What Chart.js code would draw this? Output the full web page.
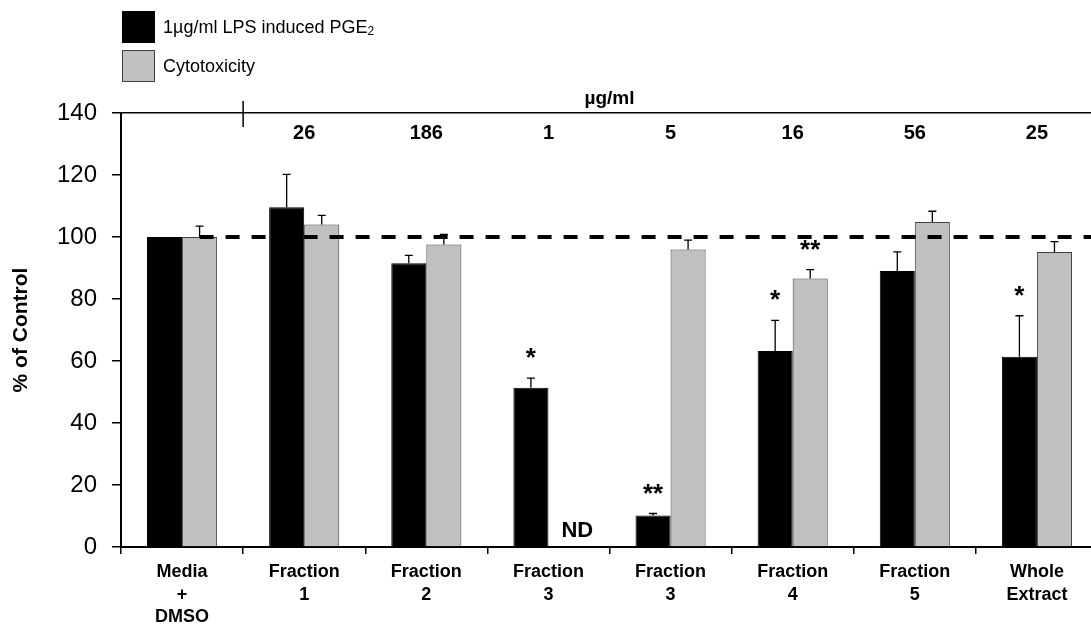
<!DOCTYPE html>
<html>
<head>
<meta charset="utf-8">
<script src="https://cdn.jsdelivr.net/npm/chart.js@4.4.1/dist/chart.umd.min.js"></script>
<style>
    html, body { margin: 0; padding: 0; background: #fff; overflow: hidden; }
    #wrap { position: relative; width: 1098px; height: 631px; }
    #legend { position: absolute; left: 122px; top: 11px; font-family: "Liberation Sans", Arial, sans-serif; font-size: 18px; color: #000; }
    .item { display: flex; align-items: center; height: 32px; margin-bottom: 7px; }
    .box { width: 33px; height: 32px; box-sizing: border-box; margin-right: 8px; }
    .item sub { font-size: 12px; vertical-align: -2px; }
</style>
</head>
<body>
<div id="wrap">
    <canvas id="grafico" width="1098" height="631"></canvas>
    <div id="legend"></div>
</div>
<script>
// dados
const categories = [['Media', '+', 'DMSO'], ['Fraction', '1'], ['Fraction', '2'], ['Fraction', '3'],
    ['Fraction', '3'], ['Fraction', '4'], ['Fraction', '5'], ['Whole', 'Extract']];
const concLabels = ['', '26', '186', '1', '5', '16', '56', '25'];

const pgeValues = [100, 109.6, 91.5, 51.4, 10.2, 63.2, 89.0, 61.4];
const pgeErrors = [0, 10.6, 2.6, 3.1, 0.6, 9.9, 6.2, 13.2];
const cytoValues = [100, 104.0, 97.6, null, 96.0, 86.6, 104.8, 95.2];
const cytoErrors = [3.5, 3.0, 3.2, 0, 3.0, 2.9, 3.5, 3.3];

const pgeSig = ['', '', '', '*', '**', '*', '', '*'];
const cytoSig = ['', '', '', '', '', '**', '', ''];
const ndIndex = 3;
const refLine = 100;

const FONT = '"Liberation Sans", Arial, sans-serif';
Chart.defaults.font.family = FONT;
Chart.defaults.color = '#000';

// barras de erro, asteriscos, ND, linha tracejada e marca do eixo de cima
const extras = {
    id: 'extras',
    afterDatasetsDraw(chart) {
        const ctx = chart.ctx;
        const y = chart.scales.y;
        const x = chart.scales.x;
        const area = chart.chartArea;
        const errs = [pgeErrors, cytoErrors];
        const sigs = [pgeSig, cytoSig];
        ctx.save();

        // linha de 100%
        const m1 = chart.getDatasetMeta(1);
        const yRef = y.getPixelForValue(refLine);
        ctx.strokeStyle = '#000';
        ctx.lineWidth = 4;
        ctx.setLineDash([14, 12]);
        ctx.beginPath();
        ctx.moveTo(m1.data[0].x, yRef);
        ctx.lineTo(area.right, yRef);
        ctx.stroke();
        ctx.setLineDash([]);

        chart.data.datasets.forEach((ds, di) => {
            const meta = chart.getDatasetMeta(di);
            meta.data.forEach((bar, i) => {
                const v = ds.data[i];
                if (v === null) return;
                const base = y.getPixelForValue(v);
                const top = y.getPixelForValue(v + errs[di][i]);
                if (errs[di][i] > 0) {
                    ctx.strokeStyle = '#000';
                    ctx.lineWidth = 1.3;
                    ctx.beginPath();
                    ctx.moveTo(bar.x, base);
                    ctx.lineTo(bar.x, top);
                    ctx.moveTo(bar.x - 4, top);
                    ctx.lineTo(bar.x + 4, top);
                    ctx.stroke();
                }
                if (sigs[di][i]) {
                    ctx.fillStyle = '#000';
                    ctx.font = 'bold 26px ' + FONT;
                    ctx.textAlign = 'center';
                    ctx.textBaseline = 'alphabetic';
                    ctx.fillText(sigs[di][i], bar.x, top - 12);
                }
            });
        });

        // ND no lugar da barra cinza
        const b = chart.getDatasetMeta(0).data[ndIndex];
        ctx.fillStyle = '#000';
        ctx.font = 'bold 22px ' + FONT;
        ctx.textAlign = 'left';
        ctx.textBaseline = 'alphabetic';
        ctx.fillText('ND', b.x + b.width / 2 + 13, y.getPixelForValue(0) - 10);

        // marca vertical no eixo de cima
        const xt = x.getPixelForValue(0.5);
        ctx.strokeStyle = '#000';
        ctx.lineWidth = 1.5;
        ctx.beginPath();
        ctx.moveTo(xt, area.top - 12);
        ctx.lineTo(xt, area.top + 14);
        ctx.stroke();
        ctx.restore();
    }
};

const ctx = document.getElementById('grafico').getContext('2d');
const grafico = new Chart(ctx, {
    type: 'bar',
    data: {
        labels: categories,
        datasets: [
            {
                label: '1µg/ml LPS induced PGE<sub>2</sub>',
                data: pgeValues,
                backgroundColor: '#000000',
                borderColor: '#000000',
                borderWidth: 1
            },
            {
                label: 'Cytotoxicity',
                data: cytoValues,
                backgroundColor: '#C0C0C0',
                borderColor: '#404040',
                borderWidth: 1
            }
        ]
    },
    options: {
        responsive: false,
        animation: false,
        layout: { padding: 0 },
        datasets: { bar: { categoryPercentage: 0.574, barPercentage: 1.0 } },
        plugins: { legend: { display: false }, tooltip: { enabled: false } },
        scales: {
            x: {
                position: 'bottom',
                offset: true,
                grid: { display: true, offset: true, drawOnChartArea: false, tickLength: 7, color: '#000', lineWidth: 1.5 },
                border: { display: true, color: '#000', width: 2 },
                ticks: { font: { size: 18, weight: 'bold', lineHeight: 1.25 }, color: '#000', padding: 7, maxRotation: 0, autoSkip: false },
                afterFit: s => { s.height = 84; }
            },
            x2: {
                type: 'category',
                labels: concLabels,
                position: 'top',
                offset: true,
                grid: { display: false },
                border: { display: true, color: '#000', width: 1.5 },
                ticks: { mirror: true, padding: 8, font: { size: 20, weight: 'bold' }, color: '#000', maxRotation: 0, autoSkip: false },
                title: { display: true, text: 'µg/ml', font: { size: 19, weight: 'bold' }, color: '#000', padding: { top: 87, bottom: 0 } },
                afterFit: s => { s.height = 113; }
            },
            y: {
                min: 0,
                max: 140,
                ticks: { stepSize: 20, font: { size: 24 }, color: '#000', padding: 15 },
                grid: { drawOnChartArea: false, tickLength: 9, color: '#000', lineWidth: 1.5 },
                border: { color: '#000', width: 2 },
                title: { display: true, text: '% of Control', font: { size: 21, weight: 'bold' }, color: '#000', padding: { top: 9, bottom: 0 } },
                afterFit: s => { s.width = 121; }
            }
        }
    },
    plugins: [extras]
});

// legenda em HTML (duas linhas, como no original)
const legenda = document.getElementById('legend');
grafico.data.datasets.forEach(ds => {
    const item = document.createElement('div');
    item.className = 'item';
    const box = document.createElement('div');
    box.className = 'box';
    box.style.background = ds.backgroundColor;
    box.style.border = '1px solid ' + ds.borderColor;
    const txt = document.createElement('span');
    txt.innerHTML = ds.label;
    item.appendChild(box);
    item.appendChild(txt);
    legenda.appendChild(item);
});
</script>
</body>
</html>
